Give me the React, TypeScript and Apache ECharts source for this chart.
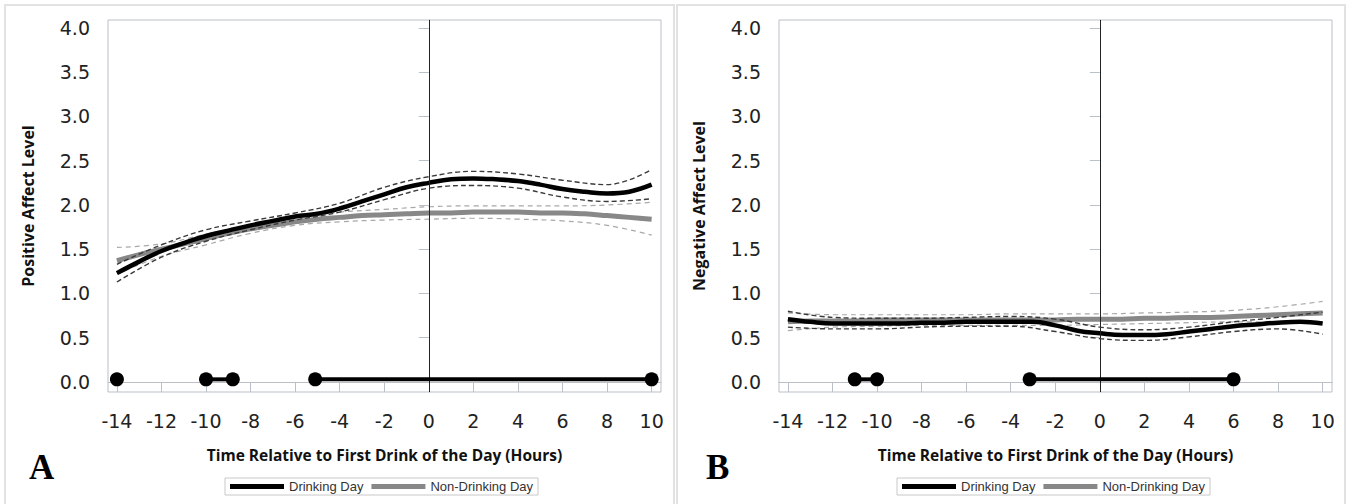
import React, { useEffect, useRef } from "react";
import * as echarts from "echarts";

// ---------- data ----------
const hours = [-14, -13, -12, -11, -10, -9, -8, -7, -6, -5, -4, -3, -2, -1, 0, 1, 2, 3, 4, 5, 6, 7, 8, 9, 10];
const ciHours = [-14, -12, -10, -8, -6, -4, -2, 0, 2, 4, 6, 8, 10];
const yTicks = [0, 0.5, 1, 1.5, 2, 2.5, 3, 3.5, 4];
const xTicks = [-14, -12, -10, -8, -6, -4, -2, 0, 2, 4, 6, 8, 10];

// Panel A: positive affect
const drinkA = [1.23, 1.36, 1.48, 1.57, 1.65, 1.71, 1.77, 1.82, 1.87, 1.9, 1.96, 2.04, 2.12, 2.2, 2.25, 2.29, 2.3, 2.29, 2.27, 2.23, 2.18, 2.15, 2.13, 2.15, 2.23];
const nonDrinkA = [1.37, 1.44, 1.5, 1.56, 1.62, 1.68, 1.73, 1.77, 1.81, 1.84, 1.86, 1.88, 1.89, 1.9, 1.91, 1.91, 1.92, 1.92, 1.92, 1.91, 1.91, 1.9, 1.88, 1.86, 1.84];
const drinkAUpper = [1.33, 1.55, 1.72, 1.82, 1.91, 2.02, 2.2, 2.32, 2.38, 2.35, 2.28, 2.23, 2.4];
const drinkALower = [1.13, 1.41, 1.59, 1.72, 1.83, 1.92, 2.06, 2.19, 2.22, 2.19, 2.09, 2.04, 2.07];
const nonDrinkAUpper = [1.52, 1.56, 1.67, 1.77, 1.86, 1.92, 1.95, 1.98, 1.99, 1.99, 1.99, 2.0, 2.03];
const nonDrinkALower = [1.22, 1.42, 1.55, 1.68, 1.77, 1.81, 1.83, 1.84, 1.85, 1.84, 1.82, 1.77, 1.66];
const segmentsA = [[-14], [-10, -8.8], [-5.1, 10]];

// Panel B: negative affect
const drinkB = [0.71, 0.68, 0.66, 0.66, 0.66, 0.66, 0.67, 0.67, 0.68, 0.68, 0.68, 0.68, 0.64, 0.58, 0.55, 0.53, 0.53, 0.54, 0.57, 0.6, 0.63, 0.65, 0.67, 0.68, 0.66];
const nonDrinkB = [0.68, 0.69, 0.69, 0.69, 0.7, 0.7, 0.7, 0.7, 0.7, 0.7, 0.7, 0.7, 0.7, 0.71, 0.71, 0.71, 0.72, 0.72, 0.73, 0.73, 0.74, 0.75, 0.76, 0.77, 0.78];
const drinkBUpper = [0.8, 0.73, 0.72, 0.72, 0.73, 0.74, 0.71, 0.62, 0.59, 0.62, 0.68, 0.73, 0.79];
const drinkBLower = [0.62, 0.6, 0.6, 0.62, 0.63, 0.63, 0.57, 0.49, 0.47, 0.51, 0.57, 0.6, 0.54];
const nonDrinkBUpper = [0.78, 0.76, 0.76, 0.76, 0.76, 0.77, 0.77, 0.77, 0.78, 0.79, 0.81, 0.85, 0.91];
const nonDrinkBLower = [0.58, 0.62, 0.63, 0.64, 0.64, 0.64, 0.64, 0.65, 0.66, 0.67, 0.68, 0.68, 0.67];
const segmentsB = [[-11, -10], [-3.15, 6]];

const markerLevel = 0.03;
const xTitle = "Time Relative to First Drink of the Day (Hours)";
const legendNames = ["Drinking Day", "Non-Drinking Day"];

// ---------- styles ----------
const FRAME = "#b9c0c7";
const TICKFONT = "'DejaVu Sans', Verdana, sans-serif";
const TITLEFONT = "Open Sans";

function zip(xs: number[], ys: number[]) {
  return xs.map((x, i) => [x, ys[i]]);
}

function buildPanel(idx: number, d: any) {
  const series: any[] = [];
  const common = { xAxisIndex: idx, yAxisIndex: idx, showSymbol: false, symbol: "none", silent: true, smooth: 0.4 };
  series.push({ ...common, type: "line", name: "ciG" + idx + "u", data: zip(ciHours, d.gu), lineStyle: { color: "#a8a8a8", width: 1.2, type: [5, 4] }, z: 2 });
  series.push({ ...common, type: "line", name: "ciG" + idx + "l", data: zip(ciHours, d.gl), lineStyle: { color: "#a8a8a8", width: 1.2, type: [5, 4] }, z: 2 });
  series.push({ ...common, type: "line", name: "Non-Drinking Day", data: zip(hours, d.g), lineStyle: { color: "#888888", width: 5 }, itemStyle: { color: "#888888" }, z: 3 });
  series.push({ ...common, type: "line", name: "Drinking Day", data: zip(hours, d.b), lineStyle: { color: "#000000", width: 4.5 }, itemStyle: { color: "#000000" }, z: 4 });
  series.push({ ...common, type: "line", name: "ciB" + idx + "u", data: zip(ciHours, d.bu), lineStyle: { color: "#3a3a3a", width: 1.4, type: [5, 3] }, z: 5 });
  series.push({ ...common, type: "line", name: "ciB" + idx + "l", data: zip(ciHours, d.bl), lineStyle: { color: "#3a3a3a", width: 1.4, type: [5, 3] }, z: 5 });
  d.seg.forEach((s: number[], k: number) => {
    series.push({
      type: "line",
      name: "seg" + idx + "_" + k,
      xAxisIndex: idx,
      yAxisIndex: idx,
      silent: true,
      data: s.map((x) => [x, markerLevel]),
      symbol: "circle",
      symbolSize: 14,
      showSymbol: true,
      itemStyle: { color: "#000" },
      lineStyle: { color: "#000", width: 4 },
      z: 6,
    });
  });
  series.push({
    type: "line",
    name: "zero" + idx,
    xAxisIndex: idx,
    yAxisIndex: idx,
    data: [],
    silent: true,
    markLine: {
      silent: true,
      symbol: ["none", "none"],
      label: { show: false },
      lineStyle: { color: "#222", width: 1, type: "solid" },
      data: [{ xAxis: 0 }],
    },
    z: 1,
  });
  return series;
}

export default function App() {
  const ref = useRef<HTMLDivElement>(null);
  useEffect(() => {
    if (!ref.current) return;
    const chart = echarts.init(ref.current, null, { renderer: "svg" });
    const gridLefts = [108, 779];
    const names = ["Positive Affect Level", "Negative Affect Level"];
    const grids = gridLefts.map((l) => ({
      left: l,
      top: 20,
      width: 553,
      height: 372,
      show: true,
      borderColor: FRAME,
      borderWidth: 1,
      backgroundColor: "#fff",
    }));
    const xAxes = gridLefts.map((_, i) => ({
      type: "value",
      gridIndex: i,
      min: -14.4,
      max: 10.42,
      axisLine: { show: true, lineStyle: { color: FRAME } },
      axisTick: { show: true, length: 10, lineStyle: { color: FRAME }, customValues: xTicks },
      axisLabel: { customValues: xTicks, margin: 19, fontSize: 19, fontFamily: TICKFONT, color: "#222" },
      splitLine: { show: false },
      name: xTitle,
      nameLocation: "middle",
      nameGap: 55,
      nameTextStyle: { fontSize: 15.5, fontWeight: "bold", fontFamily: TITLEFONT, color: "#111" },
    }));
    const yAxes = gridLefts.map((_, i) => ({
      type: "value",
      gridIndex: i,
      min: -0.113,
      max: 4.09,
      axisLine: { show: true, lineStyle: { color: FRAME } },
      axisTick: { show: true, length: 10, lineStyle: { color: FRAME }, customValues: yTicks },
      axisLabel: {
        customValues: yTicks,
        margin: 18,
        fontSize: 19,
        fontFamily: TICKFONT,
        color: "#222",
        formatter: (v: number) => v.toFixed(1),
      },
      splitLine: { show: false },
      name: names[i],
      nameLocation: "middle",
      nameGap: 72,
      nameTextStyle: { fontSize: 16, fontWeight: "bold", fontFamily: TITLEFONT, color: "#111" },
    }));
    const legendBase = {
      data: legendNames,
      top: 478,
      icon: "rect",
      itemWidth: 54,
      itemHeight: 5,
      itemGap: 8,
      padding: [2, 5],
      borderColor: "#c8c8c8",
      borderWidth: 1,
      textStyle: { fontSize: 13, fontFamily: "Liberation Sans", color: "#333" },
      selectedMode: false,
    };
    const series = [
      ...buildPanel(0, { b: drinkA, g: nonDrinkA, bu: drinkAUpper, bl: drinkALower, gu: nonDrinkAUpper, gl: nonDrinkALower, seg: segmentsA }),
      ...buildPanel(1, { b: drinkB, g: nonDrinkB, bu: drinkBUpper, bl: drinkBLower, gu: nonDrinkBUpper, gl: nonDrinkBLower, seg: segmentsB }),
    ];
    chart.setOption({
      animation: false,
      backgroundColor: "#fff",
      grid: grids,
      xAxis: xAxes,
      yAxis: yAxes,
      legend: [
        { ...legendBase, left: 225 },
        { ...legendBase, left: 897 },
      ],
      graphic: [
        { type: "rect", shape: { x: 5, y: 5, width: 669, height: 520 }, style: { fill: "none", stroke: "#e2e2e2", lineWidth: 2 }, z: -10, silent: true },
        { type: "rect", shape: { x: 677, y: 5, width: 668, height: 520 }, style: { fill: "none", stroke: "#e2e2e2", lineWidth: 2 }, z: -10, silent: true },
        { type: "text", left: 29, top: 450, style: { text: "A", font: "bold 35px 'Liberation Serif'", fill: "#000" }, silent: true },
        { type: "text", left: 706, top: 450, style: { text: "B", font: "bold 35px 'Liberation Serif'", fill: "#000" }, silent: true },
      ],
      series,
    });
    return () => chart.dispose();
  }, []);
  return <div ref={ref} style={{ position: "fixed", left: 0, top: 0, width: 1351, height: 504, background: "#fff" }} />;
}
